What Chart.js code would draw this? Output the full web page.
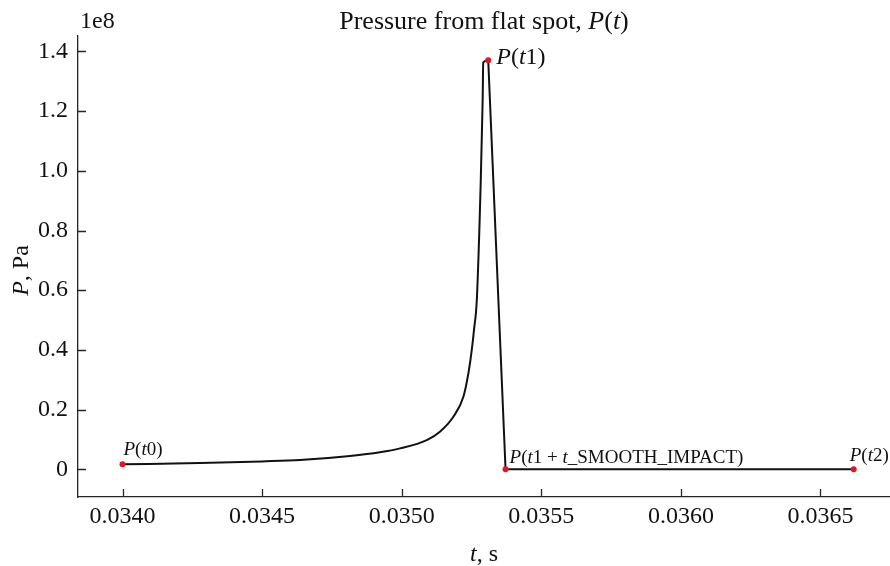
<!DOCTYPE html>
<html>
<head>
<meta charset="utf-8">
<script src="https://cdn.jsdelivr.net/npm/chart.js@4.4.1/dist/chart.umd.min.js"></script>
<style>
  html, body { margin: 0; padding: 0; background: #fff; }
  #wrap { width: 890px; height: 566px; }
</style>
</head>
<body>
<div id="wrap"><canvas id="chart" width="890" height="566"></canvas></div>
<script>
// ---------------------- Data ----------------------

// rising part of P(t), t0 -> t1 (t in s, P in Pa)
const riseT = [
  0.034000, 0.034278, 0.034500, 0.034636, 0.034815, 0.034922, 0.034994,
  0.035090, 0.035137, 0.035185, 0.035221, 0.035239, 0.035251, 0.035259,
  0.035269, 0.035283, 0.035290, 0.035292, 0.035310
];
const riseP = [
  1.68e6, 2.1e6, 2.65e6, 3.1e6, 4.46e6, 5.7e6, 7.0e6,
  9.8e6, 12.6e6, 17.6e6, 24.3e6, 32.2e6, 40.0e6, 46.7e6,
  56.7e6, 95.9e6, 123.7e6, 136.3e6, 137.0e6
];
// drop after the impact and flat tail, t1 -> t2
const tailT = [0.035310, 0.035372, 0.036619];
const tailP = [137.0e6, 0, 0];

// marked points: t0, t1, t1 + t_SMOOTH_IMPACT, t2
const markerT = [0.034000, 0.035310, 0.035372, 0.036619];
const markerP = [1.68e6, 137.0e6, 0, 0];

// tick labels
const xTickValues = [0.0340, 0.0345, 0.0350, 0.0355, 0.0360, 0.0365];
const xTickLabels = ["0.0340", "0.0345", "0.0350", "0.0355", "0.0360", "0.0365"];
const yTickValues = [0, 0.2e8, 0.4e8, 0.6e8, 0.8e8, 1.0e8, 1.2e8, 1.4e8];
const yTickLabels = ["0", "0.2", "0.4", "0.6", "0.8", "1.0", "1.2", "1.4"];

// texts as [string, italic] parts
const titleParts = [["Pressure from flat spot, ", false], ["P", true], ["(", false], ["t", true], [")", false]];
const offsetText = "1e8";
const xTitleParts = [["t", true], [", s", false]];
const yTitleParts = [["P", true], [", Pa", false]];
const markerLabelParts = [
  [["P", true], ["(", false], ["t", true], ["0)", false]],
  [["P", true], ["(", false], ["t", true], ["1)", false]],
  [["P", true], ["(", false], ["t", true], ["1 + ", false], ["t", true], ["_SMOOTH_IMPACT)", false]],
  [["P", true], ["(", false], ["t", true], ["2)", false]]
];

// ---------------------- Style ----------------------

const FONT = "'Liberation Serif', 'Times New Roman', serif";
const INK = "#111111";
const SPINE = "#262626";
const MARK = "#e8141c";

// label placement relative to its marker: [dx, dy, size]
const markerLabelPos = [[1, -9, 19], [8, 4, 24], [4, -6, 19], [-4, -8, 19]];

const fontStr = (size, italic) => `${italic ? "italic " : ""}${size}px ${FONT}`;

function drawParts(ctx, parts, x, y, size, align = "left") {
  ctx.textBaseline = "alphabetic";
  ctx.textAlign = "left";
  const widths = parts.map(([s, it]) => { ctx.font = fontStr(size, it); return ctx.measureText(s).width; });
  const total = widths.reduce((a, b) => a + b, 0);
  let cx = align === "center" ? x - total / 2 : x;
  parts.forEach(([s, it], i) => {
    ctx.font = fontStr(size, it);
    ctx.fillText(s, cx, y);
    cx += widths[i];
  });
}

// ---------------------- Plugin: ticks and texts ----------------------

const decorPlugin = {
  id: "decor",
  afterDraw(chart) {
    const { ctx, chartArea: ca, scales: { x, y } } = chart;
    ctx.save();

    // inward tick marks
    ctx.strokeStyle = SPINE;
    ctx.lineWidth = 1.3;
    ctx.beginPath();
    xTickValues.forEach(v => {
      const px = Math.round(x.getPixelForValue(v)) + 0.5;
      ctx.moveTo(px, ca.bottom);
      ctx.lineTo(px, ca.bottom - 8);
    });
    yTickValues.forEach(v => {
      const py = Math.round(y.getPixelForValue(v)) + 0.5;
      ctx.moveTo(ca.left, py);
      ctx.lineTo(ca.left + 8, py);
    });
    ctx.stroke();

    ctx.fillStyle = INK;
    // title and offset
    drawParts(ctx, titleParts, (ca.left + ca.right) / 2, 29, 26, "center");
    drawParts(ctx, [[offsetText, false]], ca.left + 2, 28, 24);

    // axis titles
    drawParts(ctx, xTitleParts, (ca.left + ca.right) / 2, 561, 24, "center");
    ctx.save();
    ctx.translate(28, (ca.top + ca.bottom) / 2 + 4);
    ctx.rotate(-Math.PI / 2);
    drawParts(ctx, yTitleParts, 0, 0, 24, "center");
    ctx.restore();

    // marker labels
    markerT.forEach((t, i) => {
      const [dx, dy, size] = markerLabelPos[i];
      const px = x.getPixelForValue(t);
      const py = y.getPixelForValue(markerP[i]);
      drawParts(ctx, markerLabelParts[i], px + dx, py + dy, size);
    });

    ctx.restore();
  }
};

// ---------------------- Chart ----------------------

const tickFont = { family: FONT, size: 24 };
const lineDs = (label, ts, ps, extra = {}) => ({
  label,
  data: ts.map((t, i) => ({ x: t, y: ps[i] })),
  showLine: true,
  borderColor: INK,
  borderWidth: 2,
  pointRadius: 0,
  order: 2,
  ...extra
});

new Chart(document.getElementById("chart").getContext("2d"), {
  type: "scatter",
  data: {
    datasets: [
      lineDs("rise", riseT, riseP, { cubicInterpolationMode: "monotone" }),
      lineDs("tail", tailT, tailP, { tension: 0 }),
      {
        label: "points",
        data: markerT.map((t, i) => ({ x: t, y: markerP[i] })),
        showLine: false,
        pointRadius: 3,
        pointBackgroundColor: MARK,
        pointBorderWidth: 0,
        order: 1
      }
    ]
  },
  options: {
    responsive: false,
    animation: false,
    devicePixelRatio: 1,
    layout: { autoPadding: false, padding: { top: 36, right: 0, left: 0, bottom: 0 } },
    plugins: {
      legend: { display: false },
      title: { display: false },
      tooltip: { enabled: false }
    },
    scales: {
      x: {
        type: "linear",
        min: 0.0338406,
        max: 0.036749,
        afterFit: (s) => { s.height = 69; },
        afterBuildTicks: (s) => { s.ticks = xTickValues.map(v => ({ value: v })); },
        ticks: {
          color: INK,
          font: tickFont,
          padding: 5,
          maxRotation: 0,
          autoSkip: false,
          callback: (v) => xTickLabels[xTickValues.findIndex(t => Math.abs(t - v) < 1e-9)] ?? ""
        },
        grid: { display: false, drawTicks: false },
        border: { display: true, color: SPINE, width: 1.3 }
      },
      y: {
        type: "linear",
        min: -0.0928e8,
        max: 1.4516e8,
        afterFit: (s) => { s.width = 78; },
        afterBuildTicks: (s) => { s.ticks = yTickValues.map(v => ({ value: v })); },
        ticks: {
          color: INK,
          font: tickFont,
          padding: 10,
          autoSkip: false,
          callback: (v) => yTickLabels[yTickValues.findIndex(t => Math.abs(t - v) < 1)] ?? ""
        },
        grid: { display: false, drawTicks: false },
        border: { display: true, color: SPINE, width: 1.3 }
      }
    }
  },
  plugins: [decorPlugin]
});
</script>
</body>
</html>
